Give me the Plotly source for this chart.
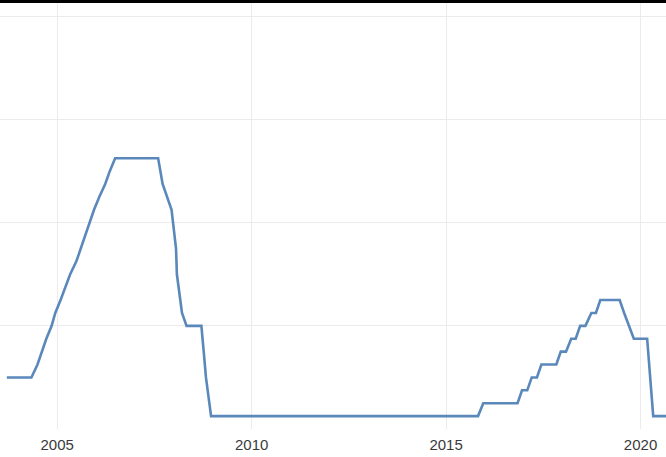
import plotly.graph_objects as go

# Policy-rate decision dates and target rate (%)
dates = [
    "2003-09-16", "2003-10-28", "2003-12-09",
    "2004-01-28", "2004-03-16", "2004-05-04", "2004-06-30", "2004-08-10", "2004-09-21", "2004-11-10", "2004-12-14",
    "2005-02-02", "2005-03-22", "2005-05-03", "2005-06-30", "2005-08-09", "2005-09-20", "2005-11-01", "2005-12-13",
    "2006-01-31", "2006-03-28", "2006-05-10", "2006-06-29", "2006-08-08", "2006-09-20", "2006-10-25", "2006-12-12",
    "2007-01-31", "2007-03-21", "2007-05-09", "2007-06-28", "2007-08-07", "2007-09-18", "2007-10-31", "2007-12-11",
    "2008-01-22", "2008-01-30", "2008-03-18", "2008-04-30", "2008-06-25", "2008-08-05", "2008-09-16", "2008-10-08",
    "2008-10-29", "2008-12-16",
    "2009-01-28", "2015-10-28", "2015-12-16",
    "2016-01-27", "2016-03-16", "2016-04-27", "2016-06-15", "2016-07-27", "2016-09-21", "2016-11-02", "2016-12-14",
    "2017-02-01", "2017-03-15", "2017-05-03", "2017-06-14", "2017-07-26", "2017-09-20", "2017-11-01", "2017-12-13",
    "2018-01-31", "2018-03-21", "2018-05-02", "2018-06-13", "2018-08-01", "2018-09-26", "2018-11-08", "2018-12-19",
    "2019-01-30", "2019-03-20", "2019-05-01", "2019-06-19", "2019-07-31", "2019-09-18", "2019-10-30", "2019-12-11",
    "2020-01-29", "2020-03-03", "2020-04-29", "2020-06-10", "2020-07-29", "2020-09-16",
]
rates = [
    1.0, 1.0, 1.0,
    1.0, 1.0, 1.0, 1.25, 1.5, 1.75, 2.0, 2.25,
    2.5, 2.75, 3.0, 3.25, 3.5, 3.75, 4.0, 4.25,
    4.5, 4.75, 5.0, 5.25, 5.25, 5.25, 5.25, 5.25,
    5.25, 5.25, 5.25, 5.25, 5.25, 4.75, 4.5, 4.25,
    3.5, 3.0, 2.25, 2.0, 2.0, 2.0, 2.0, 1.5,
    1.0, 0.25,
    0.25, 0.25, 0.5,
    0.5, 0.5, 0.5, 0.5, 0.5, 0.5, 0.5, 0.75,
    0.75, 1.0, 1.0, 1.25, 1.25, 1.25, 1.25, 1.5,
    1.5, 1.75, 1.75, 2.0, 2.0, 2.25, 2.25, 2.5,
    2.5, 2.5, 2.5, 2.5, 2.25, 2.0, 1.75, 1.75,
    1.75, 1.75, 0.25, 0.25, 0.25, 0.25,
]

x_ticks = ["2005-01-01", "2010-01-01", "2015-01-01", "2020-01-01"]
x_tick_labels = ["2005", "2010", "2015", "2020"]
y_ticks = [0, 2, 4, 6, 8]

fig = go.Figure()
fig.add_trace(go.Scatter(
    x=dates, y=rates, mode="lines",
    line=dict(color="#5a88ba", width=2.6),
    hoverinfo="skip",
))

fig.update_layout(
    width=666, height=457,
    margin=dict(l=0, r=0, t=3, b=28),
    paper_bgcolor="white", plot_bgcolor="white",
    showlegend=False,
    xaxis=dict(
        range=["2003-07-14", "2020-08-27"],
        tickvals=x_ticks, ticktext=x_tick_labels,
        showgrid=True, gridcolor="#ebebeb", gridwidth=1,
        zeroline=False, showline=False, ticks="",
        ticklabelstandoff=5,
        tickfont=dict(family="Liberation Sans, Arial", size=15, color="#3a3a3a"),
    ),
    yaxis=dict(
        range=[0, 8.26],
        tickvals=y_ticks, showticklabels=False,
        showgrid=True, gridcolor="#ebebeb", gridwidth=1,
        zeroline=False, showline=False, ticks="",
    ),
    shapes=[dict(type="rect", xref="paper", yref="paper",
                 x0=0, x1=1, y0=1, y1=1 + 3 / 426,
                 fillcolor="black", line=dict(width=0), layer="above")],
)

fig.write_html("out.html", config={"displayModeBar": False},
               post_script="document.body.style.margin='0';")
